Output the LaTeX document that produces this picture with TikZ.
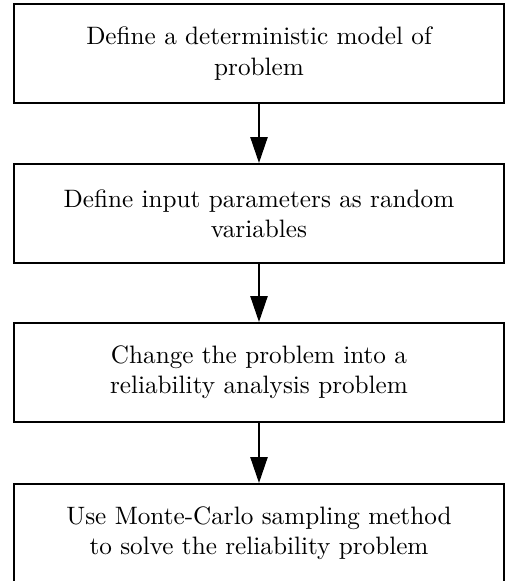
\documentclass[tikz,border=0pt]{standalone}
\usetikzlibrary{arrows.meta,positioning}
\newcommand\flowarrow{-{Triangle[length=10.3pt, width=6.8pt]}}

\begin{document}
\begin{tikzpicture}[x=0.397pt, y=-0.397pt, line width=0.8pt,
    stage/.style={draw, align=center, minimum width=194.5pt, minimum height=39.3pt, inner sep=0pt}]
            % Рамка
            \useasboundingbox (0,0) rectangle (505,581);

            % Этапы
            \node[stage] (define)  at (259,53.5)  {Define a deterministic model of\\problem};
            \node[stage] (inputs)  at (259,213.5) {Define input parameters as random\\variables};
            \node[stage] (reform)  at (259,372.5) {Change the problem into a\\reliability analysis problem};
            \node[stage] (sample)  at (259,533.5) {Use Monte-Carlo sampling method\\to solve the reliability problem};

            % Стрелки
            \draw[\flowarrow] (define) -- (inputs);
            \draw[\flowarrow] (inputs) -- (reform);
            \draw[\flowarrow] (reform) -- (sample);
        \end{tikzpicture}
\end{document}
